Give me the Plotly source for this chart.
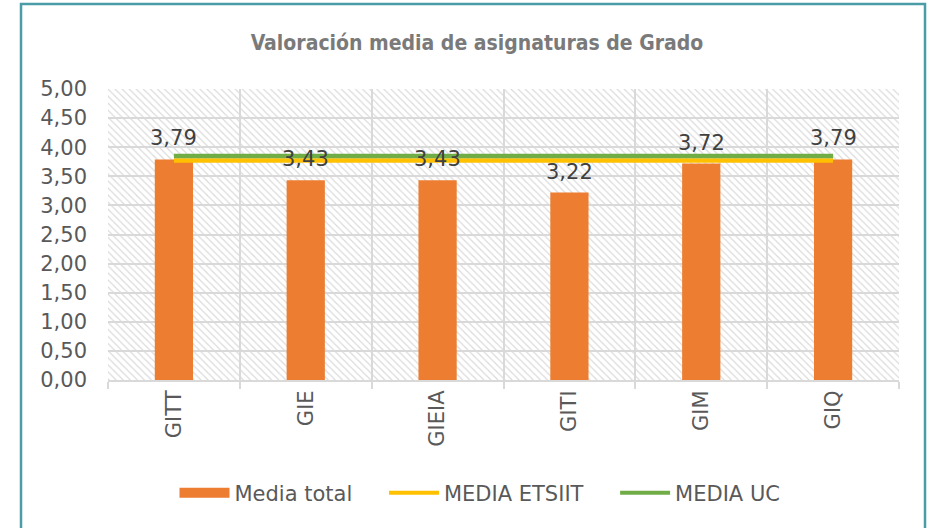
import plotly.graph_objects as go

categories = ["GITT", "GIE", "GIEIA", "GITI", "GIM", "GIQ"]
media_total = [3.79, 3.43, 3.43, 3.22, 3.72, 3.79]
media_etsiit = [3.77, 3.77, 3.77, 3.77, 3.77, 3.77]
media_uc = [3.85, 3.85, 3.85, 3.85, 3.85, 3.85]
y_ticks = [0, 0.5, 1, 1.5, 2, 2.5, 3, 3.5, 4, 4.5, 5]

Y_MAX = 5
x_idx = list(range(len(categories)))
n = len(categories)

ORANGE = "#ED7D31"
YELLOW = "#FFC000"
GREEN = "#70AD47"
GRID = "#D9D9D9"
TXT = "#595959"
FONT = "DejaVu Sans"
FS = 21
PAD = "    "

fig = go.Figure()

# hatched plot background
fig.add_trace(go.Bar(
    x=[(n - 1) / 2], y=[Y_MAX], width=[n], base=0,
    marker=dict(color="rgba(0,0,0,0)", line=dict(width=0),
                pattern=dict(shape="\\", fgcolor="#D9D9D9", size=5, solidity=0.22,
                             fillmode="replace")),
    showlegend=False, hoverinfo="skip"))

fig.add_trace(go.Bar(
    x=x_idx, y=media_total, width=0.29, name="Media total",
    marker=dict(color=ORANGE, line=dict(width=0)), showlegend=False))

fig.add_trace(go.Scatter(
    x=x_idx, y=media_etsiit, mode="lines", name="MEDIA ETSIIT",
    line=dict(color=YELLOW, width=4.5), showlegend=False))
fig.add_trace(go.Scatter(
    x=x_idx, y=media_uc, mode="lines", name="MEDIA UC",
    line=dict(color=GREEN, width=4.5), showlegend=False))

# legend entries
fig.add_trace(go.Scatter(x=[None], y=[None], mode="lines", name="Media total" + PAD,
                         line=dict(color=ORANGE, width=12)))
fig.add_trace(go.Scatter(x=[None], y=[None], mode="lines", name="MEDIA ETSIIT" + PAD,
                         line=dict(color=YELLOW, width=4)))
fig.add_trace(go.Scatter(x=[None], y=[None], mode="lines", name="MEDIA UC",
                         line=dict(color=GREEN, width=4)))

annotations = []
for xi, v in zip(x_idx, media_total):
    annotations.append(dict(
        x=xi, y=v, xref="x", yref="y", text=f"{v:.2f}".replace(".", ","),
        showarrow=False, yanchor="bottom", yshift=7,
        font=dict(family=FONT, size=FS, color="#404040")))

fig.update_layout(
    width=929, height=528,
    margin=dict(l=108, r=30, t=89, b=148),
    paper_bgcolor="white", plot_bgcolor="white",
    barmode="overlay",
    separators=",.",
    font=dict(family=FONT, size=FS, color=TXT),
    title=dict(text="<b>Valoración media de asignaturas de Grado</b>",
               x=477 / 929, xref="container", xanchor="center",
               y=1 - 43 / 528, yref="container", yanchor="middle",
               font=dict(family="DejaVu Sans Condensed, DejaVu Sans", size=21, color="#7A7A7A")),
    xaxis=dict(range=[-0.5, n - 0.5], tickmode="array", tickvals=x_idx, ticktext=categories,
               tickangle=-90, showgrid=False, zeroline=False, ticks="",
               showline=True, linecolor=GRID, linewidth=2,
               tickfont=dict(family=FONT, size=FS, color=TXT),
               minor=dict(tick0=0.5, dtick=1, ticks="outside", ticklen=7, tickcolor=GRID,
                          tickwidth=2, showgrid=True, gridcolor=GRID, gridwidth=2)),
    yaxis=dict(range=[0, Y_MAX], tickmode="array", tickvals=y_ticks, tickformat=".2f",
               showgrid=True, gridcolor=GRID, gridwidth=2, zeroline=False,
               ticklabelstandoff=20,
               tickfont=dict(family=FONT, size=FS, color=TXT)),
    legend=dict(orientation="h", x=480 / 929, xref="container", xanchor="center",
                y=1 - 493 / 528, yref="container", yanchor="middle",
                font=dict(family=FONT, size=FS, color=TXT), itemwidth=50),
    annotations=annotations,
    shapes=[dict(type="rect", xref="paper", yref="paper",
                 x0=(21 - 108) / 791, x1=(925 - 108) / 791,
                 y0=-0.6, y1=(380 - 4) / 291,
                 line=dict(color="#4A9CA6", width=2.5), fillcolor="rgba(0,0,0,0)",
                 layer="above")],
)

fig.write_html("out.html", config={"displayModeBar": False},
               post_script="document.body.style.margin='0';document.body.style.overflow='hidden';")
